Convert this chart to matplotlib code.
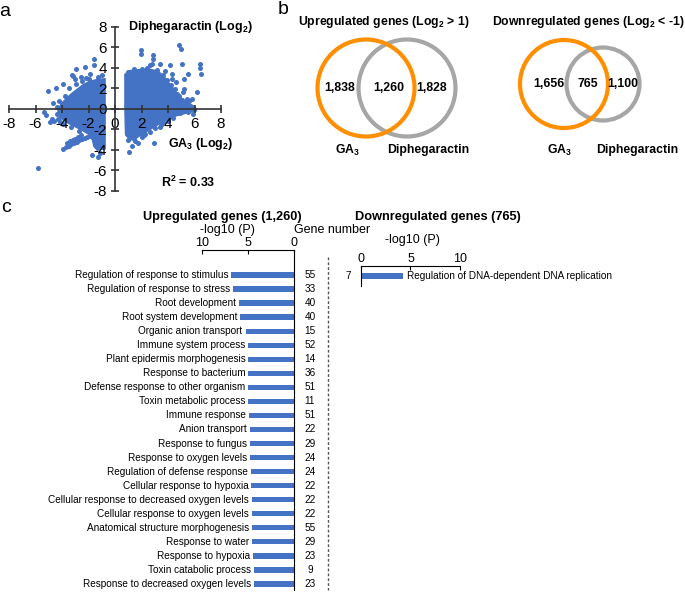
#!/usr/bin/env python3
"""Scatter, Venn diagrams and GO-term bars for GA3 vs Diphegaractin."""

import matplotlib

matplotlib.use("Agg")
import matplotlib.pyplot as plt
from matplotlib.lines import Line2D
from matplotlib.patches import Circle

W, H = 685, 594
BLUE = "#4472C4"
ORANGE = "#FF8F00"
GREY = "#A6A6A6"

# panel a: dense cores (outline) and sparse points, log2 fold change
UP_CORE_X = [0.85, 1.1, 1.8, 2.6, 3.2, 3.6, 3.9, 4.2, 4.5, 4.9, 5.4, 5.9, 6.0, 5.0, 4.2, 3.6, 3.1, 2.6, 2.1,
             1.6, 1.2, 0.9, 0.85]
UP_CORE_Y = [3.3, 3.6, 3.7, 3.75, 3.55, 3.1, 2.6, 2.1, 1.6, 1.0, 0.5, 0.15, -0.1, -0.4, -0.7, -1.1, -1.5, -1.9, -2.3,
             -2.7, -2.9, -2.5, 0.0]
UP_PTS_X = [1.96, 1.96, 2.89, 2.9, 2.8, 2.67, 3.4, 4.15, 4.3, 4.85, 4.96, 5.03, 5.53, 5.2, 6.41, 6.41, 6.46, 6.16,
            5.78, 5.4, 5.03, 4.65, 4.65, 5.0, 5.3, 5.66, 5.96, 5.86, 1.08, 2.97, 2.01, 1.4, 1.13, 2.67, 3.4, 3.65,
            4.02, 4.4, 1.13, 1.0, 1.4, 2.0, 2.4, 3.2, 3.6, 3.9, 4.2, 4.5, 4.8, 5.0, 5.4, 4.3, 3.8, 4.6, 5.2, 0.95,
            1.7, 2.3, 3.0, 1.3, 3.1, 4.9, 5.5, 1.5, 2.2, 3.5, 4.0, 4.4, 5.1, 5.6]
UP_PTS_Y = [5.72, 5.39, 5.23, 4.9, 4.4, 4.25, 4.4, 4.32, 3.4, 6.2, 5.88, 4.42, 3.44, 2.95, 4.42, 4.02, 3.44, 1.65,
            1.0, 1.0, 0.83, 1.5, 0.0, 0.0, 0.0, 0.0, -0.05, -0.47, -4.22, -3.3, -2.75, -2.92, -2.43, -2.27, -1.78, -1.3,
            -0.96, -0.64, -1.8, 3.6, 3.9, 3.9, 4.0, 3.8, 3.3, 2.8, 2.3, 1.9, 1.3, 0.4, 0.3, 2.9, 3.7, 2.6, 1.9, -3.0,
            -3.3, -2.5, -1.9, -3.6, -1.0, -0.4, -0.3, -3.1, -2.6, -1.6, -1.2, -0.9, 1.6, 0.8]
DOWN_CORE_X = [-0.85, -1.3, -1.9, -2.4, -2.8, -3.2, -3.6, -4.0, -4.2, -4.05, -3.6, -3.0, -2.4, -1.9, -1.6, -1.5,
               -1.3, -0.85]
DOWN_CORE_Y = [2.8, 2.75, 2.55, 2.2, 1.8, 1.4, 0.9, 0.4, -0.2, -0.8, -1.2, -1.6, -2.0, -2.4, -3.0, -3.6, -3.9, -3.8]
DOWN_PTS_X = [-5.79, -5.03, -4.44, -5.33, -5.23, -4.65, -4.78, -4.27, -3.15, -2.97, -2.26, -1.56, -1.56, -3.27, -2.97,
              -4.15, -1.76, -1.26, -1.0, -1.3, -2.0, -2.5, -3.5, -3.8, -4.2, -4.4, -4.4, -3.9, -3.3, -2.7, -1.9, -1.4,
              -1.1, -2.6, -1.9, -3.9, -3.9, -3.7, -3.5, -3.3, -3.1, -2.9, -2.7, -2.5, -2.3, -2.1, -3.6, -3.4, -3.2,
              -3.0, -2.8, -2.6, -4.6, -4.9, -3.0, -2.2]
DOWN_PTS_Y = [-5.75, 1.71, 2.04, -0.31, -0.64, 0.57, -1.03, -0.96, 3.21, 3.92, 4.09, 4.84, 4.25, 3.27, 2.46,
              -1.3, -4.55, -4.7, 3.3, 3.1, 2.9, 2.7, 2.0, 1.3, 0.8, 0.2, -0.5, -1.5, -1.8, -2.2, -2.7, -3.3,
              -4.3, 3.1, 3.4, 2.4, -3.9, -3.75, -3.6, -3.45, -3.32, -3.2, -3.07, -2.95, -2.85, -2.75, -3.3, -3.15, -3.0,
              -2.9, -2.75, -2.6, -1.2, -1.3, 2.9, 3.0]
R2 = 0.33

# panel b: Venn counts (GA3 only, shared, Diphegaractin only)
UP_VENN = [1838, 1260, 1828]
DOWN_VENN = [1656, 765, 1100]

# panel c: GO terms
UP_TERMS = [
    "Regulation of response to stimulus", "Regulation of response to stress", "Root development",
    "Root system development", "Organic anion transport", "Immune system process",
    "Plant epidermis morphogenesis", "Response to bacterium", "Defense response to other organism",
    "Toxin metabolic process", "Immune response", "Anion transport", "Response to fungus",
    "Response to oxygen levels", "Regulation of defense response", "Cellular response to hypoxia",
    "Cellular response to decreased oxygen levels", "Cellular response to oxygen levels",
    "Anatomical structure morphogenesis", "Response to water", "Response to hypoxia",
    "Toxin catabolic process", "Response to decreased oxygen levels",
]
UP_LOGP = [6.8, 6.67, 6.0, 5.86, 5.27, 5.05, 4.98, 4.98, 4.98, 4.95, 4.9, 4.8, 4.8, 4.78, 4.7, 4.67,
           4.6, 4.6, 4.55, 4.55, 4.5, 4.4, 4.35]
UP_GENES = [55, 33, 40, 40, 15, 52, 14, 36, 51, 11, 51, 22, 29, 24, 24, 22, 22, 22, 55, 29, 23, 9, 23]
DOWN_TERMS = ["Regulation of DNA-dependent DNA replication"]
DOWN_LOGP = [4.2]
DOWN_GENES = [7]


def rect(x0, y0, x1, y1):
    return [x0 / W, 1 - y1 / H, (x1 - x0) / W, (y1 - y0) / H]


def ftext(fig, x, y, s, **kw):
    kw.setdefault("ha", "center")
    kw.setdefault("va", "center")
    fig.text(x / W, 1 - y / H, s, **kw)


def plot_scatter(fig):
    ax = fig.add_axes(rect(9, 27, 221, 190.7))
    ax.set_xlim(-8, 8)
    ax.set_ylim(-8, 8)
    ax.fill(UP_CORE_X, UP_CORE_Y, color=BLUE, lw=3, zorder=1)
    ax.fill(DOWN_CORE_X, DOWN_CORE_Y, color=BLUE, lw=3, zorder=1)
    ax.scatter(UP_PTS_X, UP_PTS_Y, s=13, color=BLUE, lw=0, zorder=1)
    ax.scatter(DOWN_PTS_X, DOWN_PTS_Y, s=13, color=BLUE, lw=0, zorder=1)
    for side in ("top", "right"):
        ax.spines[side].set_visible(False)
    for side in ("left", "bottom"):
        ax.spines[side].set_position("zero")
        ax.spines[side].set_color("#333333")
        ax.spines[side].set_linewidth(1.2)
    ax.set_xticks(range(-8, 9, 2))
    ax.set_yticks(range(-8, 9, 2))
    ax.tick_params(direction="inout", length=6, width=1.2, color="#333333", labelsize=11, pad=3)
    ax.patch.set_visible(False)

    ftext(fig, 128, 27, "Diphegaractin (Log$_2$)", ha="left", weight="bold", fontsize=9)
    ftext(fig, 168, 144, "GA$_3$ (Log$_2$)", ha="left", weight="bold", fontsize=9)
    ftext(fig, 161, 182, f"R$^2$ = {R2:.2f}", ha="left", weight="bold", fontsize=9)


def plot_venns(fig):
    ax = fig.add_axes([0, 0, 1, 1], zorder=0)
    ax.set_xlim(0, W)
    ax.set_ylim(H, 0)
    ax.set_axis_off()
    ax.add_patch(Circle((407, 88), 48.5, fill=False, ec=GREY, lw=3))
    ax.add_patch(Circle((366, 88), 48.5, fill=False, ec=ORANGE, lw=3))
    ax.add_patch(Circle((603, 84), 36.5, fill=False, ec=GREY, lw=3))
    ax.add_patch(Circle((564, 84), 44, fill=False, ec=ORANGE, lw=3))

    bold = dict(weight="bold", fontsize=8.8)
    ftext(fig, 384, 22, "Upregulated genes (Log$_2$ > 1)", **bold)
    ftext(fig, 588, 22, "Downregulated genes (Log$_2$ < -1)", **bold)
    for x, n in zip((340, 389, 432), UP_VENN):
        ftext(fig, x, 88, f"{n:,}", **bold)
    for x, n in zip((549, 588, 623), DOWN_VENN):
        ftext(fig, x, 84, f"{n:,}", **bold)
    for x in (347, 559):
        ftext(fig, x, 150, "GA$_3$", **bold)
    for x in (428, 637):
        ftext(fig, x, 150, "Diphegaractin", **bold)


def plot_go(fig):
    ax = fig.add_axes(rect(202, 250, 294, 590))
    ax.barh(range(len(UP_TERMS)), UP_LOGP, height=0.38, color=BLUE)
    ax.set_xlim(10, 0)
    ax.set_ylim(22.43, -1.78)
    ax.set_yticks([])
    ax.xaxis.tick_top()
    ax.set_xticks([10, 5, 0])
    ax.tick_params(axis="x", direction="in", length=3, labelsize=9, pad=1)
    ax.spines["left"].set_visible(False)
    ax.spines["bottom"].set_visible(False)
    ax.patch.set_visible(False)
    for i, (term, v, g) in enumerate(zip(UP_TERMS, UP_LOGP, UP_GENES)):
        ax.annotate(term, xy=(v, i), xytext=(-2, 0), textcoords="offset points",
                    ha="right", va="center", fontsize=7.2)
        ax.annotate(str(g), xy=(0, i), xytext=(11.5, 0), textcoords="offset points",
                    ha="center", va="center", fontsize=7.2)

    ax2 = fig.add_axes(rect(361, 266, 460, 286))
    ax2.barh(range(len(DOWN_TERMS)), DOWN_LOGP, height=0.38, color=BLUE)
    ax2.set_xlim(0, 10)
    ax2.set_ylim(0.71, -0.71)
    ax2.set_yticks([])
    ax2.xaxis.tick_top()
    ax2.set_xticks([0, 5, 10])
    ax2.tick_params(axis="x", direction="in", length=3, labelsize=9, pad=1)
    ax2.spines["right"].set_visible(False)
    ax2.spines["bottom"].set_visible(False)
    ax2.patch.set_visible(False)
    for i, (term, v, g) in enumerate(zip(DOWN_TERMS, DOWN_LOGP, DOWN_GENES)):
        ax2.annotate(term, xy=(v, i), xytext=(3, 0), textcoords="offset points",
                     ha="left", va="center", fontsize=7.2)
        ax2.annotate(str(g), xy=(0, i), xytext=(-9.4, 0), textcoords="offset points",
                     ha="center", va="center", fontsize=7.2)

    fig.add_artist(Line2D([328 / W] * 2, [1 - 257 / H, 1 - 590 / H], ls=(0, (2, 1.5)),
                          lw=1, color="#555555"))
    ftext(fig, 222, 217, "Upregulated genes (1,260)", weight="bold", fontsize=9.2)
    ftext(fig, 438, 217, "Downregulated genes (765)", weight="bold", fontsize=9.2)
    ftext(fig, 227, 230, "-log10 (P)", fontsize=9)
    ftext(fig, 412, 240, "-log10 (P)", fontsize=9)
    ftext(fig, 332, 230, "Gene number", fontsize=9)


def main():
    plt.rcParams["font.family"] = ["Liberation Sans", "DejaVu Sans"]
    plt.rcParams["mathtext.default"] = "regular"
    plt.rcParams["axes.unicode_minus"] = False
    fig = plt.figure(figsize=(W / 100, H / 100), dpi=100)
    plot_venns(fig)
    plot_scatter(fig)
    plot_go(fig)
    ftext(fig, 5, 11, "a", fontsize=14)
    ftext(fig, 283, 9, "b", fontsize=14)
    ftext(fig, 6, 208, "c", fontsize=14)
    fig.savefig("out.png", dpi=100)
    plt.close(fig)


if __name__ == "__main__":
    main()
